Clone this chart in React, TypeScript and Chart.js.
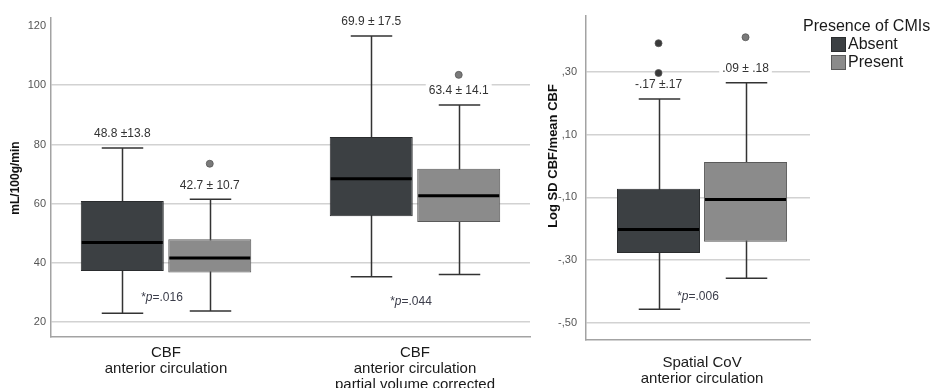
import { useEffect, useRef } from "react";
import { Chart, registerables } from "chart.js";
Chart.register(...registerables);

const FONT = '"Liberation Sans", Arial, Helvetica, sans-serif';

// ---------- shared ----------
const seriesNames = ["Absent", "Present"];
const seriesFill = ["#3c4043", "#8b8b8b"];
const seriesBorder = ["#2a2c2e", "#5a5a5a"];
const outlierFill = ["#3a3a3a", "#7a7a7a"];
const legendTitle = "Presence of CMIs";

// ---------- left panel: CBF ----------
const leftCategories = [
  ["CBF", "anterior circulation"],
  ["CBF", "anterior circulation", "partial volume corrected"],
];
const leftTickValues = [20, 40, 60, 80, 100, 120];
const leftTickLabels = ["20", "40", "60", "80", "100", "120"];
const leftAxisTitle = "mL/100g/min";

const absentCbfMin = [23.0, 35.3];
const absentCbfQ1 = [37.3, 55.8];
const absentCbfMedian = [46.9, 68.4];
const absentCbfQ3 = [60.9, 82.5];
const absentCbfMax = [78.8, 116.6];
const absentCbfOutliers: number[][] = [[], []];
const absentCbfStats = ["48.8 \u00b113.8", "69.9 \u00b1 17.5"];

const presentCbfMin = [23.8, 36.1];
const presentCbfQ1 = [36.8, 53.8];
const presentCbfMedian = [41.7, 62.7];
const presentCbfQ3 = [48.0, 71.8];
const presentCbfMax = [61.5, 93.3];
const presentCbfOutliers: number[][] = [[73.5], [103.5]];
const presentCbfStats = ["42.7 \u00b1 10.7", "63.4 \u00b1 14.1"];

const leftPValues = [".016", ".044"];
const leftPValueY = [28.4, 26.8];

// ---------- right panel: spatial CoV ----------
const rightCategories = [["Spatial CoV", "anterior circulation"]];
const rightTickValues = [0.3, 0.1, -0.1, -0.3, -0.5];
const rightTickLabels = [",30", ",10", "-,10", "-,30", "-,50"];
const rightAxisTitle = "Log SD CBF/mean CBF";

const absentCovMin = [-0.457];
const absentCovQ1 = [-0.278];
const absentCovMedian = [-0.203];
const absentCovQ3 = [-0.073];
const absentCovMax = [0.213];
const absentCovOutliers: number[][] = [[0.296, 0.391]];
const absentCovStats = ["-.17 \u00b1.17"];

const presentCovMin = [-0.358];
const presentCovQ1 = [-0.242];
const presentCovMedian = [-0.107];
const presentCovQ3 = [0.012];
const presentCovMax = [0.265];
const presentCovOutliers: number[][] = [[0.41]];
const presentCovStats = [".09 \u00b1 .18"];

const rightPValues = [".006"];
const rightPValueY = [-0.416];

type Series = {
  min: number[];
  q1: number[];
  median: number[];
  q3: number[];
  max: number[];
  outliers: number[][];
  stats: string[];
};

type PanelCfg = {
  series: Series[];
  pValues: string[];
  pY: number[];
  axisTitle: string;
  axisTitleX: number;
  axisTitleY: number;
  axisTitleSize: number;
  legend: boolean;
};

function drawPLabel(ctx: CanvasRenderingContext2D, cx: number, cy: number, value: string) {
  const parts = [
    { t: "*", f: `12px ${FONT}` },
    { t: "p", f: `italic 12px ${FONT}` },
    { t: "=" + value, f: `12px ${FONT}` },
  ];
  let total = 0;
  const widths = parts.map((p) => {
    ctx.font = p.f;
    const w = ctx.measureText(p.t).width;
    total += w;
    return w;
  });
  let x = cx - total / 2;
  ctx.fillStyle = "#3b3d4a";
  ctx.textAlign = "left";
  ctx.textBaseline = "middle";
  parts.forEach((p, i) => {
    ctx.font = p.f;
    ctx.fillText(p.t, x, cy);
    x += widths[i];
  });
}

function makeBoxPlugin(cfg: PanelCfg) {
  return {
    id: "boxplotDraw",
    beforeDatasetsDraw(chart: any) {
      const ctx: CanvasRenderingContext2D = chart.ctx;
      const y = chart.scales.y;
      cfg.series.forEach((s, di) => {
        const meta = chart.getDatasetMeta(di);
        meta.data.forEach((bar: any, i: number) => {
          const x = Math.round(bar.x) + 0.5;
          const w = bar.width;
          const yMin = y.getPixelForValue(s.min[i]);
          const yMax = y.getPixelForValue(s.max[i]);
          ctx.save();
          ctx.strokeStyle = "#333333";
          ctx.lineWidth = 1.5;
          ctx.beginPath();
          ctx.moveTo(x, yMax);
          ctx.lineTo(x, yMin);
          ctx.moveTo(x - w / 4, yMax);
          ctx.lineTo(x + w / 4, yMax);
          ctx.moveTo(x - w / 4, yMin);
          ctx.lineTo(x + w / 4, yMin);
          ctx.stroke();
          ctx.restore();
        });
      });
    },
    afterDatasetsDraw(chart: any) {
      const ctx: CanvasRenderingContext2D = chart.ctx;
      const y = chart.scales.y;
      const centers: number[][] = [];
      cfg.series.forEach((s, di) => {
        const meta = chart.getDatasetMeta(di);
        meta.data.forEach((bar: any, i: number) => {
          const x = bar.x;
          const w = bar.width;
          (centers[i] = centers[i] || []).push(x);
          const ym = y.getPixelForValue(s.median[i]);
          ctx.save();
          ctx.strokeStyle = "#000000";
          ctx.lineWidth = 3;
          ctx.beginPath();
          ctx.moveTo(x - w / 2 + 1, ym);
          ctx.lineTo(x + w / 2 - 1, ym);
          ctx.stroke();
          s.outliers[i].forEach((v) => {
            ctx.beginPath();
            ctx.arc(x, y.getPixelForValue(v), 3.5, 0, Math.PI * 2);
            ctx.fillStyle = outlierFill[di];
            ctx.fill();
            ctx.lineWidth = 0.8;
            ctx.strokeStyle = "#555555";
            ctx.stroke();
          });
          const yCap = y.getPixelForValue(s.max[i]);
          const ty = yCap - 14;
          ctx.font = `12px ${FONT}`;
          const tw = ctx.measureText(s.stats[i]).width;
          ctx.fillStyle = "#ffffff";
          ctx.fillRect(x - tw / 2 - 3, ty - 7, tw + 6, 14);
          ctx.fillStyle = "#333333";
          ctx.textAlign = "center";
          ctx.textBaseline = "middle";
          ctx.fillText(s.stats[i], x, ty);
          ctx.restore();
        });
      });
      cfg.pValues.forEach((pv, i) => {
        const c = centers[i];
        const cx = (c[0] + c[c.length - 1]) / 2 - 4;
        ctx.save();
        drawPLabel(ctx, cx, y.getPixelForValue(cfg.pY[i]), pv);
        ctx.restore();
      });
    },
    afterDraw(chart: any) {
      const ctx: CanvasRenderingContext2D = chart.ctx;
      ctx.save();
      ctx.translate(cfg.axisTitleX, cfg.axisTitleY);
      ctx.rotate(-Math.PI / 2);
      ctx.font = `bold ${cfg.axisTitleSize}px ${FONT}`;
      ctx.fillStyle = "#111111";
      ctx.textAlign = "center";
      ctx.textBaseline = "middle";
      ctx.fillText(cfg.axisTitle, 0, 0);
      ctx.restore();
      if (cfg.legend) {
        ctx.save();
        ctx.font = `16px ${FONT}`;
        ctx.fillStyle = "#1a1a1a";
        ctx.textAlign = "left";
        ctx.textBaseline = "middle";
        ctx.fillText(legendTitle, 263, 27);
        seriesNames.forEach((name, k) => {
          const by = 37 + k * 18;
          ctx.fillStyle = seriesFill[k];
          ctx.fillRect(291.5, by + 0.5, 14, 14);
          ctx.strokeStyle = seriesBorder[k];
          ctx.lineWidth = 1;
          ctx.strokeRect(291.5, by + 0.5, 14, 14);
          ctx.fillStyle = "#1a1a1a";
          ctx.fillText(name, 308, by + 7.5);
        });
        ctx.restore();
      }
    },
  };
}

function buildChart(
  canvas: HTMLCanvasElement,
  categories: string[][],
  series: Series[],
  opts: {
    xMin: number;
    xMax: number;
    yMin: number;
    yMax: number;
    ticks: number[];
    tickLabels: string[];
    hideGridAt: number | null;
    axisWidth: number;
    tickPadding: number;
    xHeight: number;
    xPadding: number;
    padding: { top: number; right: number; left: number; bottom: number };
    categoryPercentage: number;
    barPercentage: number;
  },
  cfg: PanelCfg
) {
  return new Chart(canvas, {
    type: "bar",
    data: {
      datasets: series.map((s, k) => ({
        label: seriesNames[k],
        data: s.q1.map((v, i) => ({ x: i, y: [v, s.q3[i]] })) as any,
        backgroundColor: seriesFill[k],
        borderColor: seriesBorder[k],
        borderWidth: 1,
        borderSkipped: false,
        categoryPercentage: opts.categoryPercentage,
        barPercentage: opts.barPercentage,
      })),
    },
    options: {
      animation: false,
      responsive: false,
      devicePixelRatio: 1,
      layout: { padding: opts.padding },
      plugins: {
        legend: { display: false },
        tooltip: { enabled: false },
      },
      scales: {
        x: {
          type: "linear",
          min: opts.xMin,
          max: opts.xMax,
          offset: false,
          afterBuildTicks: (s: any) => {
            s.ticks = categories.map((_, i) => ({ value: i }));
          },
          grid: { display: false },
          border: { display: true, color: "#a3a3a3", width: 1.5 },
          ticks: {
            autoSkip: false,
            maxRotation: 0,
            minRotation: 0,
            padding: opts.xPadding,
            color: "#1a1a1a",
            font: { family: FONT, size: 15, lineHeight: 1.05 },
            callback: (value: any) => categories[Math.round(Number(value))] || "",
          },
          afterFit: (s: any) => {
            s.height = opts.xHeight;
          },
        },
        y: {
          type: "linear",
          min: opts.yMin,
          max: opts.yMax,
          afterBuildTicks: (s: any) => {
            s.ticks = opts.ticks.map((v) => ({ value: v }));
          },
          afterFit: (s: any) => {
            s.width = opts.axisWidth;
          },
          grid: {
            drawTicks: false,
            lineWidth: 1.5,
            color: (c: any) =>
              opts.hideGridAt !== null && c.tick && c.tick.value === opts.hideGridAt
                ? "rgba(0,0,0,0)"
                : "#d2d2d2",
          },
          border: { display: true, color: "#a3a3a3", width: 1.5 },
          ticks: {
            padding: opts.tickPadding,
            color: "#555555",
            font: { family: FONT, size: 11 },
            callback: (value: any) => {
              const idx = opts.ticks.findIndex((t) => Math.abs(t - Number(value)) < 1e-9);
              return idx >= 0 ? opts.tickLabels[idx] : "";
            },
          },
        },
      },
    },
    plugins: [makeBoxPlugin(cfg) as any],
  });
}

export default function App() {
  const leftRef = useRef<HTMLCanvasElement | null>(null);
  const rightRef = useRef<HTMLCanvasElement | null>(null);

  useEffect(() => {
    const leftSeries: Series[] = [
      {
        min: absentCbfMin,
        q1: absentCbfQ1,
        median: absentCbfMedian,
        q3: absentCbfQ3,
        max: absentCbfMax,
        outliers: absentCbfOutliers,
        stats: absentCbfStats,
      },
      {
        min: presentCbfMin,
        q1: presentCbfQ1,
        median: presentCbfMedian,
        q3: presentCbfQ3,
        max: presentCbfMax,
        outliers: presentCbfOutliers,
        stats: presentCbfStats,
      },
    ];
    const rightSeries: Series[] = [
      {
        min: absentCovMin,
        q1: absentCovQ1,
        median: absentCovMedian,
        q3: absentCovQ3,
        max: absentCovMax,
        outliers: absentCovOutliers,
        stats: absentCovStats,
      },
      {
        min: presentCovMin,
        q1: presentCovQ1,
        median: presentCovMedian,
        q3: presentCovQ3,
        max: presentCovMax,
        outliers: presentCovOutliers,
        stats: presentCovStats,
      },
    ];

    const left = buildChart(
      leftRef.current!,
      leftCategories,
      leftSeries,
      {
        xMin: -0.462,
        xMax: 1.462,
        yMin: 15,
        yMax: 122.7,
        ticks: leftTickValues,
        tickLabels: leftTickLabels,
        hideGridAt: 120,
        axisWidth: 51,
        tickPadding: 5,
        xHeight: 51,
        xPadding: 0,
        padding: { top: 18, right: 10, left: 0, bottom: 0 },
        categoryPercentage: 0.7028,
        barPercentage: 0.9486,
      },
      {
        series: leftSeries,
        pValues: leftPValues,
        pY: leftPValueY,
        axisTitle: leftAxisTitle,
        axisTitleX: 16,
        axisTitleY: 178,
        axisTitleSize: 12,
        legend: false,
      }
    );
    const right = buildChart(
      rightRef.current!,
      rightCategories,
      rightSeries,
      {
        xMin: -0.518,
        xMax: 0.482,
        yMin: -0.555,
        yMax: 0.479,
        ticks: rightTickValues,
        tickLabels: rightTickLabels,
        hideGridAt: null,
        axisWidth: 46,
        tickPadding: 9,
        xHeight: 48,
        xPadding: 7,
        padding: { top: 13, right: 123, left: 0, bottom: 0 },
        categoryPercentage: 0.777,
        barPercentage: 0.954,
      },
      {
        series: rightSeries,
        pValues: rightPValues,
        pY: rightPValueY,
        axisTitle: rightAxisTitle,
        axisTitleX: 13,
        axisTitleY: 156,
        axisTitleSize: 13,
        legend: true,
      }
    );
    return () => {
      left.destroy();
      right.destroy();
    };
  }, []);

  return (
    <div style={{ position: "fixed", left: 0, top: 0, width: 933, height: 388, background: "#ffffff" }}>
      <canvas
        ref={leftRef}
        width={540}
        height={388}
        style={{ position: "absolute", left: 0, top: 0, width: 540, height: 388, display: "block" }}
      />
      <canvas
        ref={rightRef}
        width={393}
        height={388}
        style={{ position: "absolute", left: 540, top: 0, width: 393, height: 388, display: "block" }}
      />
    </div>
  );
}
